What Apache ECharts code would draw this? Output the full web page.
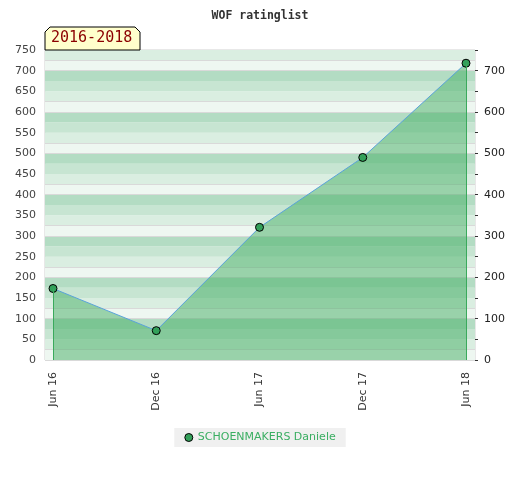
<!DOCTYPE html>
<html>
<head>
<meta charset="utf-8">
<script src="https://cdn.jsdelivr.net/npm/echarts@6/dist/echarts.min.js"></script>
<style>html,body{margin:0;padding:0;background:#fff;}#c{width:520px;height:480px;}</style>
</head>
<body>
<div id="c"></div>
<script>
const titleText = 'WOF ratinglist';
const periodText = '2016-2018';
const seriesName = 'SCHOENMAKERS Daniele';
const categories = ['Jun 16', 'Dec 16', 'Jun 17', 'Dec 17', 'Jun 18'];
const ratings = [173, 71, 321, 490, 718];
const yMin = 0, yMax = 750, leftStep = 50, rightLabelStep = 100, stripeStep = 25;

const chart = echarts.init(document.getElementById('c'), null, {renderer: 'canvas'});
const last = categories.length - 1;
chart.setOption({
  animation: false,
  backgroundColor: '#fff',
  title: {
    text: titleText, left: 'center', top: 5,
    textStyle: {fontFamily: 'DejaVu Sans Mono', fontWeight: 'bold', fontSize: 11.5, color: '#333'}
  },
  legend: {
    bottom: 33, left: 'center',
    backgroundColor: '#f0f0f0', borderRadius: 0,
    padding: [4, 10, 4, 10],
    itemWidth: 8, itemHeight: 8, icon: 'circle',
    itemStyle: {color: '#33a05a', borderColor: '#000', borderWidth: 1},
    textStyle: {color: '#3aae62', fontFamily: 'DejaVu Sans', fontSize: 11},
    data: [seriesName]
  },
  grid: [
    {left: 45, right: 45, top: 50, bottom: 120, show: true, borderColor: '#d0d0d0', borderWidth: 1, backgroundColor: 'transparent'},
    {left: 53, right: 54, top: 50, bottom: 120}
  ],
  xAxis: [
    {type: 'value', gridIndex: 0, min: 0, max: 1, show: false},
    {type: 'category', gridIndex: 1, data: categories, boundaryGap: false,
      axisLine: {show: false}, axisTick: {show: false}, splitLine: {show: false},
      axisLabel: {rotate: 90, margin: 12, color: '#333', fontFamily: 'DejaVu Sans', fontSize: 11}}
  ],
  yAxis: [
    {type: 'value', gridIndex: 0, min: yMin, max: yMax, interval: leftStep, position: 'left',
      axisLine: {show: false}, axisTick: {show: false}, splitLine: {show: false},
      axisLabel: {margin: 9, color: '#444', fontFamily: 'DejaVu Sans', fontSize: 11}},
    {type: 'value', gridIndex: 0, min: yMin, max: yMax, interval: leftStep, position: 'right',
      axisLine: {show: false}, splitLine: {show: false},
      axisTick: {show: true, length: 3, lineStyle: {color: '#333'}},
      axisLabel: {margin: 9, color: '#222', fontFamily: 'DejaVu Sans', fontSize: 11,
        formatter: v => (v % rightLabelStep === 0 && v < yMax) ? String(v) : ''}},
    {type: 'value', gridIndex: 0, min: yMin, max: yMax, interval: stripeStep, position: 'left',
      axisLine: {show: false}, axisTick: {show: false}, axisLabel: {show: false},
      splitArea: {show: true, areaStyle: {color: ['#eef7f1', '#daeee1', '#c7e5d2', '#b3dcc3']}},
      splitLine: {show: true, lineStyle: {width: 1, color: ['#d9d9d9', '#d9d9d9', 'rgba(0,0,0,0)', 'rgba(0,0,0,0)']}}},
    {type: 'value', gridIndex: 1, min: yMin, max: yMax, show: false}
  ],
  graphic: [
    {type: 'polygon', z: 100,
      shape: {points: [[45, 50], [45, 32], [50, 27], [135, 27], [140, 32], [140, 50]]},
      style: {fill: '#ffffcc', stroke: '#000', lineWidth: 1}},
    {type: 'text', z: 101, left: 51, top: 31,
      style: {text: periodText, fill: '#8b0000', font: '15px "DejaVu Sans Mono"'}}
  ],
  series: [{
    name: seriesName, type: 'line', xAxisIndex: 1, yAxisIndex: 3,
    data: ratings,
    symbol: 'circle', symbolSize: 8,
    itemStyle: {color: '#33a05a', borderColor: '#000', borderWidth: 1},
    lineStyle: {color: '#5aa3da', width: 1},
    areaStyle: {color: 'rgba(68,173,99,0.5)', opacity: 1},
    z: 3,
    markLine: {
      silent: true, symbol: 'none', label: {show: false},
      lineStyle: {color: '#3aaa5c', width: 1, type: 'solid'},
      data: [
        [{coord: [categories[0], yMin]}, {coord: [categories[0], ratings[0]]}],
        [{coord: [categories[last], yMin]}, {coord: [categories[last], ratings[last]]}]
      ]
    }
  }]
});
</script>
</body>
</html>
